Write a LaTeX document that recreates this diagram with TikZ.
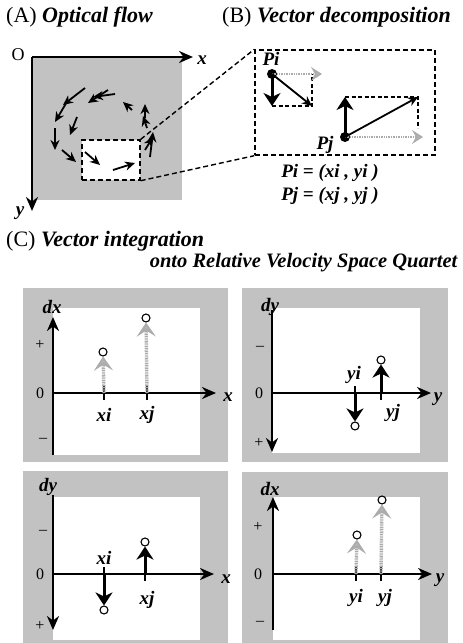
\documentclass[tikz,border=0pt]{standalone}
\usepackage{fontspec}
\setmainfont{Liberation Serif}
\usetikzlibrary{arrows.meta}
\tikzset{
  >={Stealth[length=10pt,width=9pt]},
  axis/.style={line width=2.4pt,-{Stealth[length=14pt,width=12pt]}},
  vec/.style={line width=1.8pt,->},
  bigvec/.style={line width=3pt,-{Stealth[length=13pt,width=17pt,inset=4pt]}},
  ghost/.style={draw=gray!65,line width=3.4pt,dash pattern=on 1pt off 0.7pt,
    -{Stealth[length=14pt,width=19pt,inset=6pt,fill=gray!55]}},
  thinghost/.style={draw=gray!65,line width=2.4pt,dash pattern=on 1pt off 0.7pt,
    -{Stealth[length=11pt,width=14pt,inset=4pt,fill=gray!55]}},
  ring/.style={circle,draw,line width=1.1pt,fill=white,inner sep=0pt,minimum size=8pt},
  dot/.style={circle,fill,inner sep=0pt,minimum size=10pt},
  frame/.style={line width=1.4pt,dash pattern=on 5pt off 3pt},
  guide/.style={line width=1.1pt,dash pattern=on 4pt off 2.5pt},
  lbl/.style={font=\fontsize{19}{21}\selectfont\bfseries\itshape,inner sep=1pt},
  title/.style={font=\fontsize{22}{24}\selectfont,anchor=west,inner sep=0pt},
  sign/.style={font=\fontsize{16}{18}\selectfont,inner sep=0pt},
  paper/.style={fill=black!24},
}
\newcommand{\sub}[1]{\textbf{\textit{#1}}}
\begin{document}
\begin{tikzpicture}[x=1pt,y=-1pt]
  \useasboundingbox (0,0) rectangle (463,643);
  % titles
  \node[title] (ttlA) at (6,17) {(A) \sub{Optical flow}};
  \node[title] (ttlB) at (222,17) {(B) \sub{Vector decomposition}};
  \node[title] (ttlC) at (6,241) {(C) \sub{Vector integration}};
  \node[title,anchor=east,font=\fontsize{20.5}{22}\selectfont] (ttlC2) at (458,263) {\sub{onto Relative Velocity Space Quartet}};

  % (A) optical flow
  \fill[paper] (33,58) rectangle (182,200);
  \node[frame,draw,fill=white,minimum width=58pt,minimum height=40pt] (zoomA) at (111,160) {};
  \coordinate (OA) at (32,57);
  \coordinate (xA) at (193,57);
  \coordinate (yA) at (32,211);
  \draw[axis] (OA) -- (xA);
  \draw[axis] (OA) -- (yA);
  \node[sign,font=\fontsize{18}{20}\selectfont] (Olbl) at (18,55) {O};
  \node[lbl] (xAl) at (202,60) {x};
  \node[lbl] (yAl) at (20,213) {y};
  \foreach \xa/\ya/\xb/\yb in {115/94/93/97, 108/90/88/103, 85/88/63/105, 68/100/55/122,
      55/128/55/150, 77/117/70/135, 62/150/76/162, 85/152/100/165, 113/170/135/163,
      132/110/123/102, 145/118/145/104, 147/128/143/116, 150/157/153/132, 145/150/153/137}
    \draw[vec] (\xa,\ya) -- (\xb,\yb);

  % (B) vector decomposition
  \node[frame,draw,minimum width=180pt,minimum height=105pt] (zoomB) at (345,102.5) {};
  \draw[frame] (zoomA.north east) -- (zoomB.north west);
  \draw[frame] (zoomA.south east) -- (zoomB.south west);
  \node[dot] (Pi) at (272,74) {};
  \node[lbl] (Pil) at (271,59) {Pi};
  \coordinate (Pi-x) at (322,74);
  \coordinate (Pi-y) at (272,106);
  \coordinate (Pi-v) at (312,106);
  \draw[guide] (Pi-y) -- (Pi-v) -- (312,74);
  \draw[thinghost] (Pi.center) -- (Pi-x);
  \draw[bigvec] (Pi.center) -- (Pi-y);
  \draw[vec] (Pi.center) -- (Pi-v);
  \node[dot] (Pj) at (345,137) {};
  \node[lbl] (Pjl) at (325,145) {Pj};
  \coordinate (Pj-x) at (423,137);
  \coordinate (Pj-y) at (345,97);
  \coordinate (Pj-v) at (418,97);
  \draw[guide] (Pj-y) -- (Pj-v) -- (418,128);
  \draw[thinghost] (Pj.center) -- (Pj-x);
  \draw[bigvec] (Pj.center) -- (Pj-y);
  \draw[vec] (Pj.center) -- (Pj-v);
  \node[lbl] (PiEq) at (330,173) {Pi = (xi , yi )};
  \node[lbl] (PjEq) at (330,196) {Pj = (xj , yj )};

  % (C) top left: dx over x
  \begin{scope}[shift={(53,393)}]
    \fill[paper] (-30,-105) rectangle (175,69);
    \fill[white] (0,-85) rectangle (147,62);
    \draw[axis] (0,62) -- (0,-76);
    \draw[axis] (0,0) -- (163,0);
    \node[lbl] (tl-ax) at (-1,-86) {dx};
    \node[lbl] (tl-x) at (175,4) {x};
    \node[sign] (tl-0) at (-13,0) {0};
    \node[sign] (tl-p) at (-13,-48) {+};
    \node[sign] (tl-m) at (-10,47) {\textendash};
    \foreach \t/\u in {51/i,94/j} {
      \coordinate (tl-\u) at (\t,0);
      \draw[line width=1.1pt] (\t,-7) -- (\t,7);
      \node[lbl] at (\t,22) {x\u};
    }
    \node[ring] (tl-ri) at (50,-41) {};
    \node[ring] (tl-rj) at (93,-75) {};
    \draw[ghost] (tl-i) -- (tl-ri);
    \draw[ghost] (tl-j) -- (tl-rj);
  \end{scope}

  % (C) top right: dy over y
  \begin{scope}[shift={(272,393)}]
    \fill[paper] (-30,-105) rectangle (176,69);
    \fill[white] (0,-85) rectangle (148,60);
    \draw[axis] (0,-83) -- (0,59);
    \draw[axis] (0,0) -- (159,0);
    \node[lbl] (tr-ax) at (-2,-86) {dy};
    \node[lbl] (tr-y) at (166,6) {y};
    \node[sign] (tr-0) at (-13,0) {0};
    \node[sign] (tr-m) at (-12,-45) {\textendash};
    \node[sign] (tr-p) at (-13,50) {+};
    \foreach \t/\u in {83/i,109/j} {
      \coordinate (tr-\u) at (\t,0);
      \draw[line width=1.1pt] (\t,-7) -- (\t,7);
    }
    \node[lbl] at (82,-18) {yi};
    \node[lbl] at (121,20) {yj};
    \node[ring] (tr-ri) at (83,33) {};
    \node[ring] (tr-rj) at (109,-33) {};
    \draw[bigvec] (tr-i) -- (tr-ri);
    \draw[bigvec] (tr-j) -- (tr-rj);
  \end{scope}

  % (C) bottom left: dy over x
  \begin{scope}[shift={(53,574)}]
    \fill[paper] (-30,-103) rectangle (175,69);
    \fill[white] (0,-77) rectangle (147,66);
    \draw[axis] (0,-79) -- (0,56);
    \draw[axis] (0,0) -- (161,0);
    \node[lbl] (bl-ax) at (-5,-87) {dy};
    \node[lbl] (bl-x) at (173,5) {x};
    \node[sign] (bl-0) at (-13,0) {0};
    \node[sign] (bl-m) at (-10,-42) {\textendash};
    \node[sign] (bl-p) at (-13,52) {+};
    \foreach \t/\u in {51/i,92/j} {
      \coordinate (bl-\u) at (\t,0);
      \draw[line width=1.1pt] (\t,-7) -- (\t,7);
    }
    \node[lbl] at (51,-16) {xi};
    \node[lbl] at (94,26) {xj};
    \node[ring] (bl-ri) at (51,36) {};
    \node[ring] (bl-rj) at (92,-32) {};
    \draw[bigvec] (bl-i) -- (bl-ri);
    \draw[bigvec] (bl-j) -- (bl-rj);
  \end{scope}

  % (C) bottom right: dx over y
  \begin{scope}[shift={(273,574)}]
    \fill[paper] (-31,-102) rectangle (175,69);
    \fill[white] (0,-77) rectangle (147,66);
    \draw[axis] (0,56) -- (0,-77);
    \draw[axis] (0,0) -- (159,0);
    \node[lbl] (br-ax) at (-3,-85) {dx};
    \node[lbl] (br-y) at (167,6) {y};
    \node[sign] (br-0) at (-15,0) {0};
    \node[sign] (br-p) at (-15,-47) {+};
    \node[sign] (br-m) at (-13,49) {\textendash};
    \foreach \t/\u in {83/i,108/j} {
      \coordinate (br-\u) at (\t,0);
      \draw[line width=1.1pt] (\t,-7) -- (\t,7);
    }
    \node[lbl] at (83,24) {yi};
    \node[lbl] at (112,24) {yj};
    \node[ring] (br-ri) at (84,-39) {};
    \node[ring] (br-rj) at (109,-74) {};
    \draw[ghost] (br-i) -- (br-ri);
    \draw[ghost] (br-j) -- (br-rj);
  \end{scope}
\end{tikzpicture}
\end{document}
